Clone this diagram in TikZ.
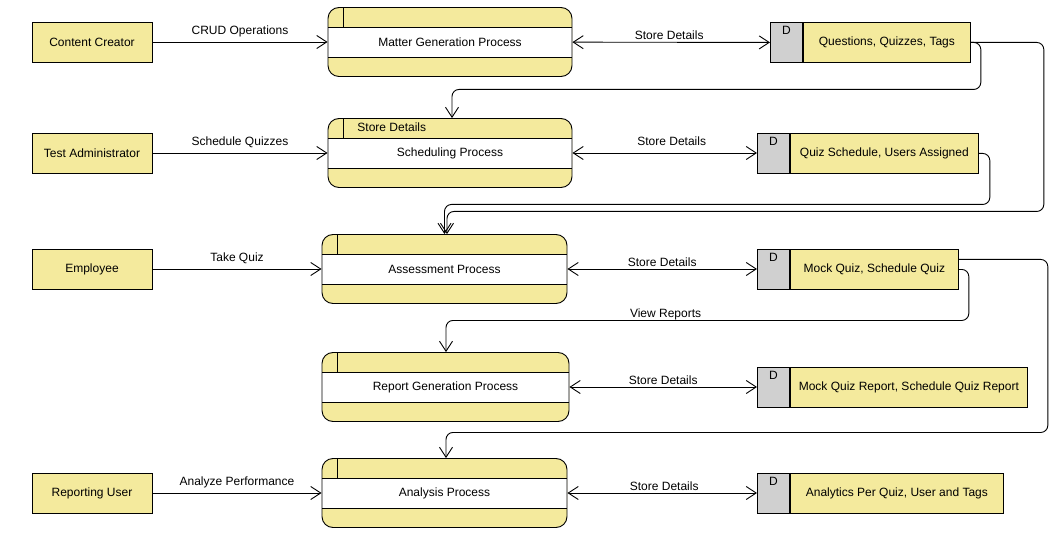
\documentclass[tikz,border=0pt]{standalone}
\usepackage{fontspec}
\setmainfont{Liberation Sans}
\usetikzlibrary{arrows.meta,calc}
\definecolor{pyel}{RGB}{244,234,157}
\definecolor{dgrey}{RGB}{208,208,208}
\begin{document}
\begin{tikzpicture}[x=1pt,y=-1pt,
  font=\fontsize{12}{14}\selectfont,
  line width=0.9pt,
  ent/.style={draw, fill=pyel, minimum width=120pt, minimum height=40pt, inner sep=0pt},
  proc/.style={draw, fill=pyel, rounded corners=11pt, minimum width=#1, minimum height=69pt, inner sep=0pt,
    path picture={
      \fill[white,sharp corners] ([yshift=15pt]path picture bounding box.west) rectangle ([yshift=-15pt]path picture bounding box.east);
      \draw[sharp corners,line width=0.9pt] ([yshift=15pt]path picture bounding box.west) -- ([yshift=15pt]path picture bounding box.east);
      \draw[sharp corners,line width=0.9pt] ([yshift=-15pt]path picture bounding box.west) -- ([yshift=-15pt]path picture bounding box.east);
      \draw[sharp corners,line width=0.9pt] ([xshift=15pt]path picture bounding box.north west) -- ([xshift=15pt,yshift=15pt]path picture bounding box.west);
    }},
  dbox/.style={draw, fill=dgrey, minimum width=32pt, minimum height=40pt, inner sep=0pt, anchor=north west},
  dlbl/.style={anchor=north, inner sep=0pt, yshift=-4pt},
  sbox/.style={draw, fill=pyel, minimum width=#1, minimum height=40pt, inner sep=0pt, anchor=west},
  arr/.style={-{Straight Barb[length=10pt,width=13pt]}},
  biarr/.style={{Straight Barb[length=10pt,width=13pt]}-{Straight Barb[length=10pt,width=13pt]}},
  lblL/.style={anchor=base, inner sep=0pt, yshift=7.5pt},
  lblR/.style={anchor=base, inner sep=0pt, yshift=3pt},
  conn/.style={arr, rounded corners=7pt}
]
\useasboundingbox (0,0) rectangle (1062,537);

% external entities
\node[ent] (cc) at (92,42) {Content Creator};
\node[ent] (ta) at (92,153) {Test Administrator};
\node[ent] (em) at (92,269) {Employee};
\node[ent] (ru) at (92,493) {Reporting User};

% processes
\node[proc=244pt] (mg) at (450,42) {Matter Generation Process};
\node[proc=244pt] (sch) at (450,153) {Scheduling Process};
\node[anchor=west, inner sep=0pt] (schl) at (357,127) {Store Details};
\node[proc=245pt] (as) at (444.5,269) {Assessment Process};
\node[proc=247pt] (rg) at (445.5,387) {Report Generation Process};
\node[proc=245pt] (an) at (444.5,493) {Analysis Process};

% data stores
\node[dbox] (qD) at (770,22) {};
\node[dlbl] (qDl) at (qD.north) {D};
\node[sbox=167pt] (q) at (qD.east) {Questions, Quizzes, Tags};

\node[dbox] (qsD) at (757,133) {};
\node[dlbl] (qsDl) at (qsD.north) {D};
\node[sbox=188pt] (qs) at (qsD.east) {Quiz Schedule, Users Assigned};

\node[dbox] (mqD) at (757,249) {};
\node[dlbl] (mqDl) at (mqD.north) {D};
\node[sbox=168pt] (mq) at (mqD.east) {Mock Quiz, Schedule Quiz};

\node[dbox] (mrD) at (757,367) {};
\node[dlbl] (mrDl) at (mrD.north) {D};
\node[sbox=237pt] (mr) at (mrD.east) {Mock Quiz Report, Schedule Quiz Report};

\node[dbox] (apD) at (757,473) {};
\node[dlbl] (apDl) at (apD.north) {D};
\node[sbox=213pt] (ap) at (apD.east) {Analytics Per Quiz, User and Tags};

% entity -> process flows
\draw[arr] (cc) -- node[lblL] {CRUD Operations} (mg);
\draw[arr] (ta) -- node[lblL] {Schedule Quizzes} (sch);
\draw[arr] (em) -- node[lblL] {Take Quiz} (as);
\draw[arr] (ru) -- node[lblL] {Analyze Performance} (an);

% process <-> store flows
\draw[biarr] (mg) -- node[lblR, xshift=-2pt] {Store Details} (qD);
\draw[biarr] (sch) -- node[lblR, yshift=4pt, xshift=7pt] {Store Details} (qsD.west |- sch);
\draw[biarr] (as) -- node[lblR] {Store Details} (mqD.west |- as);
\draw[biarr] (rg) -- node[lblR] {Store Details} (mrD.west |- rg);
\draw[biarr] (an) -- node[lblR, xshift=2pt] {Store Details} (apD.west |- an);

% store -> process flows
\draw[conn] (q.east) -- ++(10,0) -- ++(0,47) -| ([xshift=2pt]sch.north);
\draw[conn] (q.east) -- ++(73,0) -- ++(0,169) -| ([xshift=2.5pt]as.north);
\draw[conn] (qs.east) -- ++(11,0) -- ++(0,51) -| (as.north);
\draw[conn] (mq.east) -- ++(10,0) -- ++(0,51) -| node[lblR, pos=0.29] {View Reports} ([xshift=0.5pt]rg.north);
\draw[conn] ([yshift=10pt]mq.east) -- ++(89,0) -- ++(0,173) -| ([xshift=1.5pt]an.north);
\end{tikzpicture}
\end{document}
